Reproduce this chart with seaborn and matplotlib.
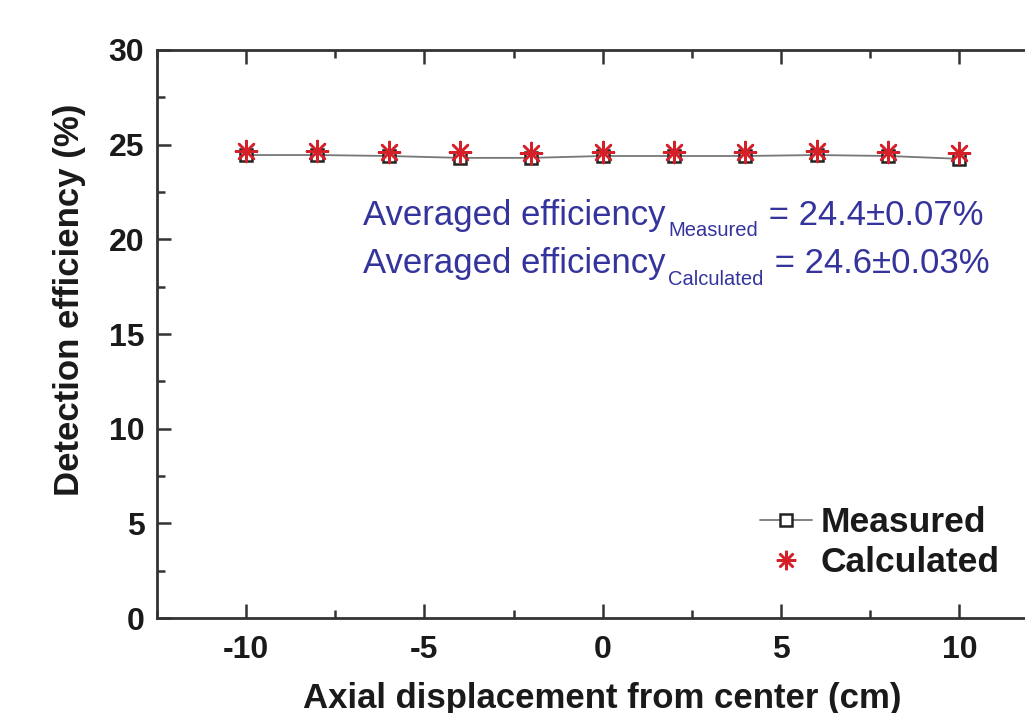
import matplotlib
matplotlib.use("Agg")
import matplotlib.pyplot as plt
import seaborn as sns
import pandas as pd
from matplotlib.ticker import MultipleLocator
from matplotlib.lines import Line2D

# Axial scan positions (cm) and detection efficiencies (%)
positions = [-10, -8, -6, -4, -2, 0, 2, 4, 6, 8, 10]
measured = [24.45, 24.45, 24.40, 24.30, 24.30, 24.40, 24.40, 24.40, 24.45, 24.40, 24.25]
calculated = [24.65, 24.65, 24.60, 24.60, 24.55, 24.60, 24.60, 24.60, 24.65, 24.60, 24.55]

x_ticks = [-10, -5, 0, 5, 10]
y_ticks = [0, 5, 10, 15, 20, 25, 30]

df = pd.DataFrame({"pos": positions, "Measured": measured, "Calculated": calculated})

sns.set_theme(style="ticks")
plt.rcParams["font.family"] = ["Liberation Sans", "DejaVu Sans"]
plt.rcParams["axes.unicode_minus"] = False

fig = plt.figure(figsize=(10.25, 7.13), dpi=100)
ax = fig.add_axes([0.153, 0.133, 0.870, 0.797])

asterisk = (8, 2, 0)
red = "#d42028"
ink = "#1a1a1a"

sns.lineplot(data=df, x="pos", y="Measured", ax=ax, color="#777777", linewidth=1.3,
             marker="s", markersize=9, markerfacecolor="white",
             markeredgecolor="#222222", markeredgewidth=1.8, zorder=3)
sns.scatterplot(data=df, x="pos", y="Calculated", ax=ax, marker=asterisk, s=230,
                color=red, edgecolor=red, linewidth=1.8, zorder=4)

ax.set_xlim(-12.5, 12.5)
ax.set_ylim(0, 30)
ax.set_xticks(x_ticks)
ax.set_yticks(y_ticks)
ax.xaxis.set_minor_locator(MultipleLocator(2.5))
ax.yaxis.set_minor_locator(MultipleLocator(2.5))
ax.tick_params(which="both", direction="in", top=True, right=True, width=1.8,
               color="#333333")
ax.tick_params(which="major", length=10, labelsize=23, labelcolor=ink)
ax.tick_params(axis="x", which="major", pad=12)
ax.tick_params(axis="y", which="major", pad=9)
ax.tick_params(which="minor", length=6)
for lab in ax.get_xticklabels() + ax.get_yticklabels():
    lab.set_fontweight("bold")

for sp in ax.spines.values():
    sp.set_linewidth(2.0)
    sp.set_color("#333333")

ax.set_xlabel("Axial displacement from center (cm)", fontsize=25, fontweight="bold",
              color=ink, labelpad=12)
ax.set_ylabel("Detection efficiency (%)", fontsize=25, fontweight="bold", color=ink)
ax.yaxis.set_label_coords(-0.079, 0.56)

# Averaged-efficiency notes, built as main text + subscript + value
blue = "#34349c"

def note(y, sub, value):
    t1 = ax.text(-6.72, y, "Averaged efficiency", fontsize=25, color=blue,
                 va="baseline")
    t2 = ax.annotate(sub, xy=(1, 0), xycoords=t1, xytext=(2, -3),
                     textcoords="offset points", fontsize=14.5, color=blue,
                     va="baseline")
    ax.annotate(" = " + value, xy=(1, 0), xycoords=(t2, t1), xytext=(1, 0),
                textcoords="offset points", fontsize=25, color=blue, va="bottom")

note(20.75, "Measured", "24.4\u00b10.07%")
note(18.2, "Calculated", "24.6\u00b10.03%")

handles = [
    Line2D([], [], color="#777777", linewidth=1.3, marker="s", markersize=9,
           markerfacecolor="white", markeredgecolor="#222222", markeredgewidth=1.8),
    Line2D([], [], linestyle="none", marker=asterisk, markersize=14,
           color=red, markeredgewidth=1.8),
]
leg = ax.legend(handles, ["Measured", "Calculated"], loc="lower left",
                bbox_to_anchor=(0.657, 0.037), frameon=False, borderpad=0,
                handlelength=1.45, handletextpad=0.25, labelspacing=0.2,
                prop={"weight": "bold", "size": 25.5})
for t in leg.get_texts():
    t.set_color(ink)

fig.savefig("out.png", dpi=100)
